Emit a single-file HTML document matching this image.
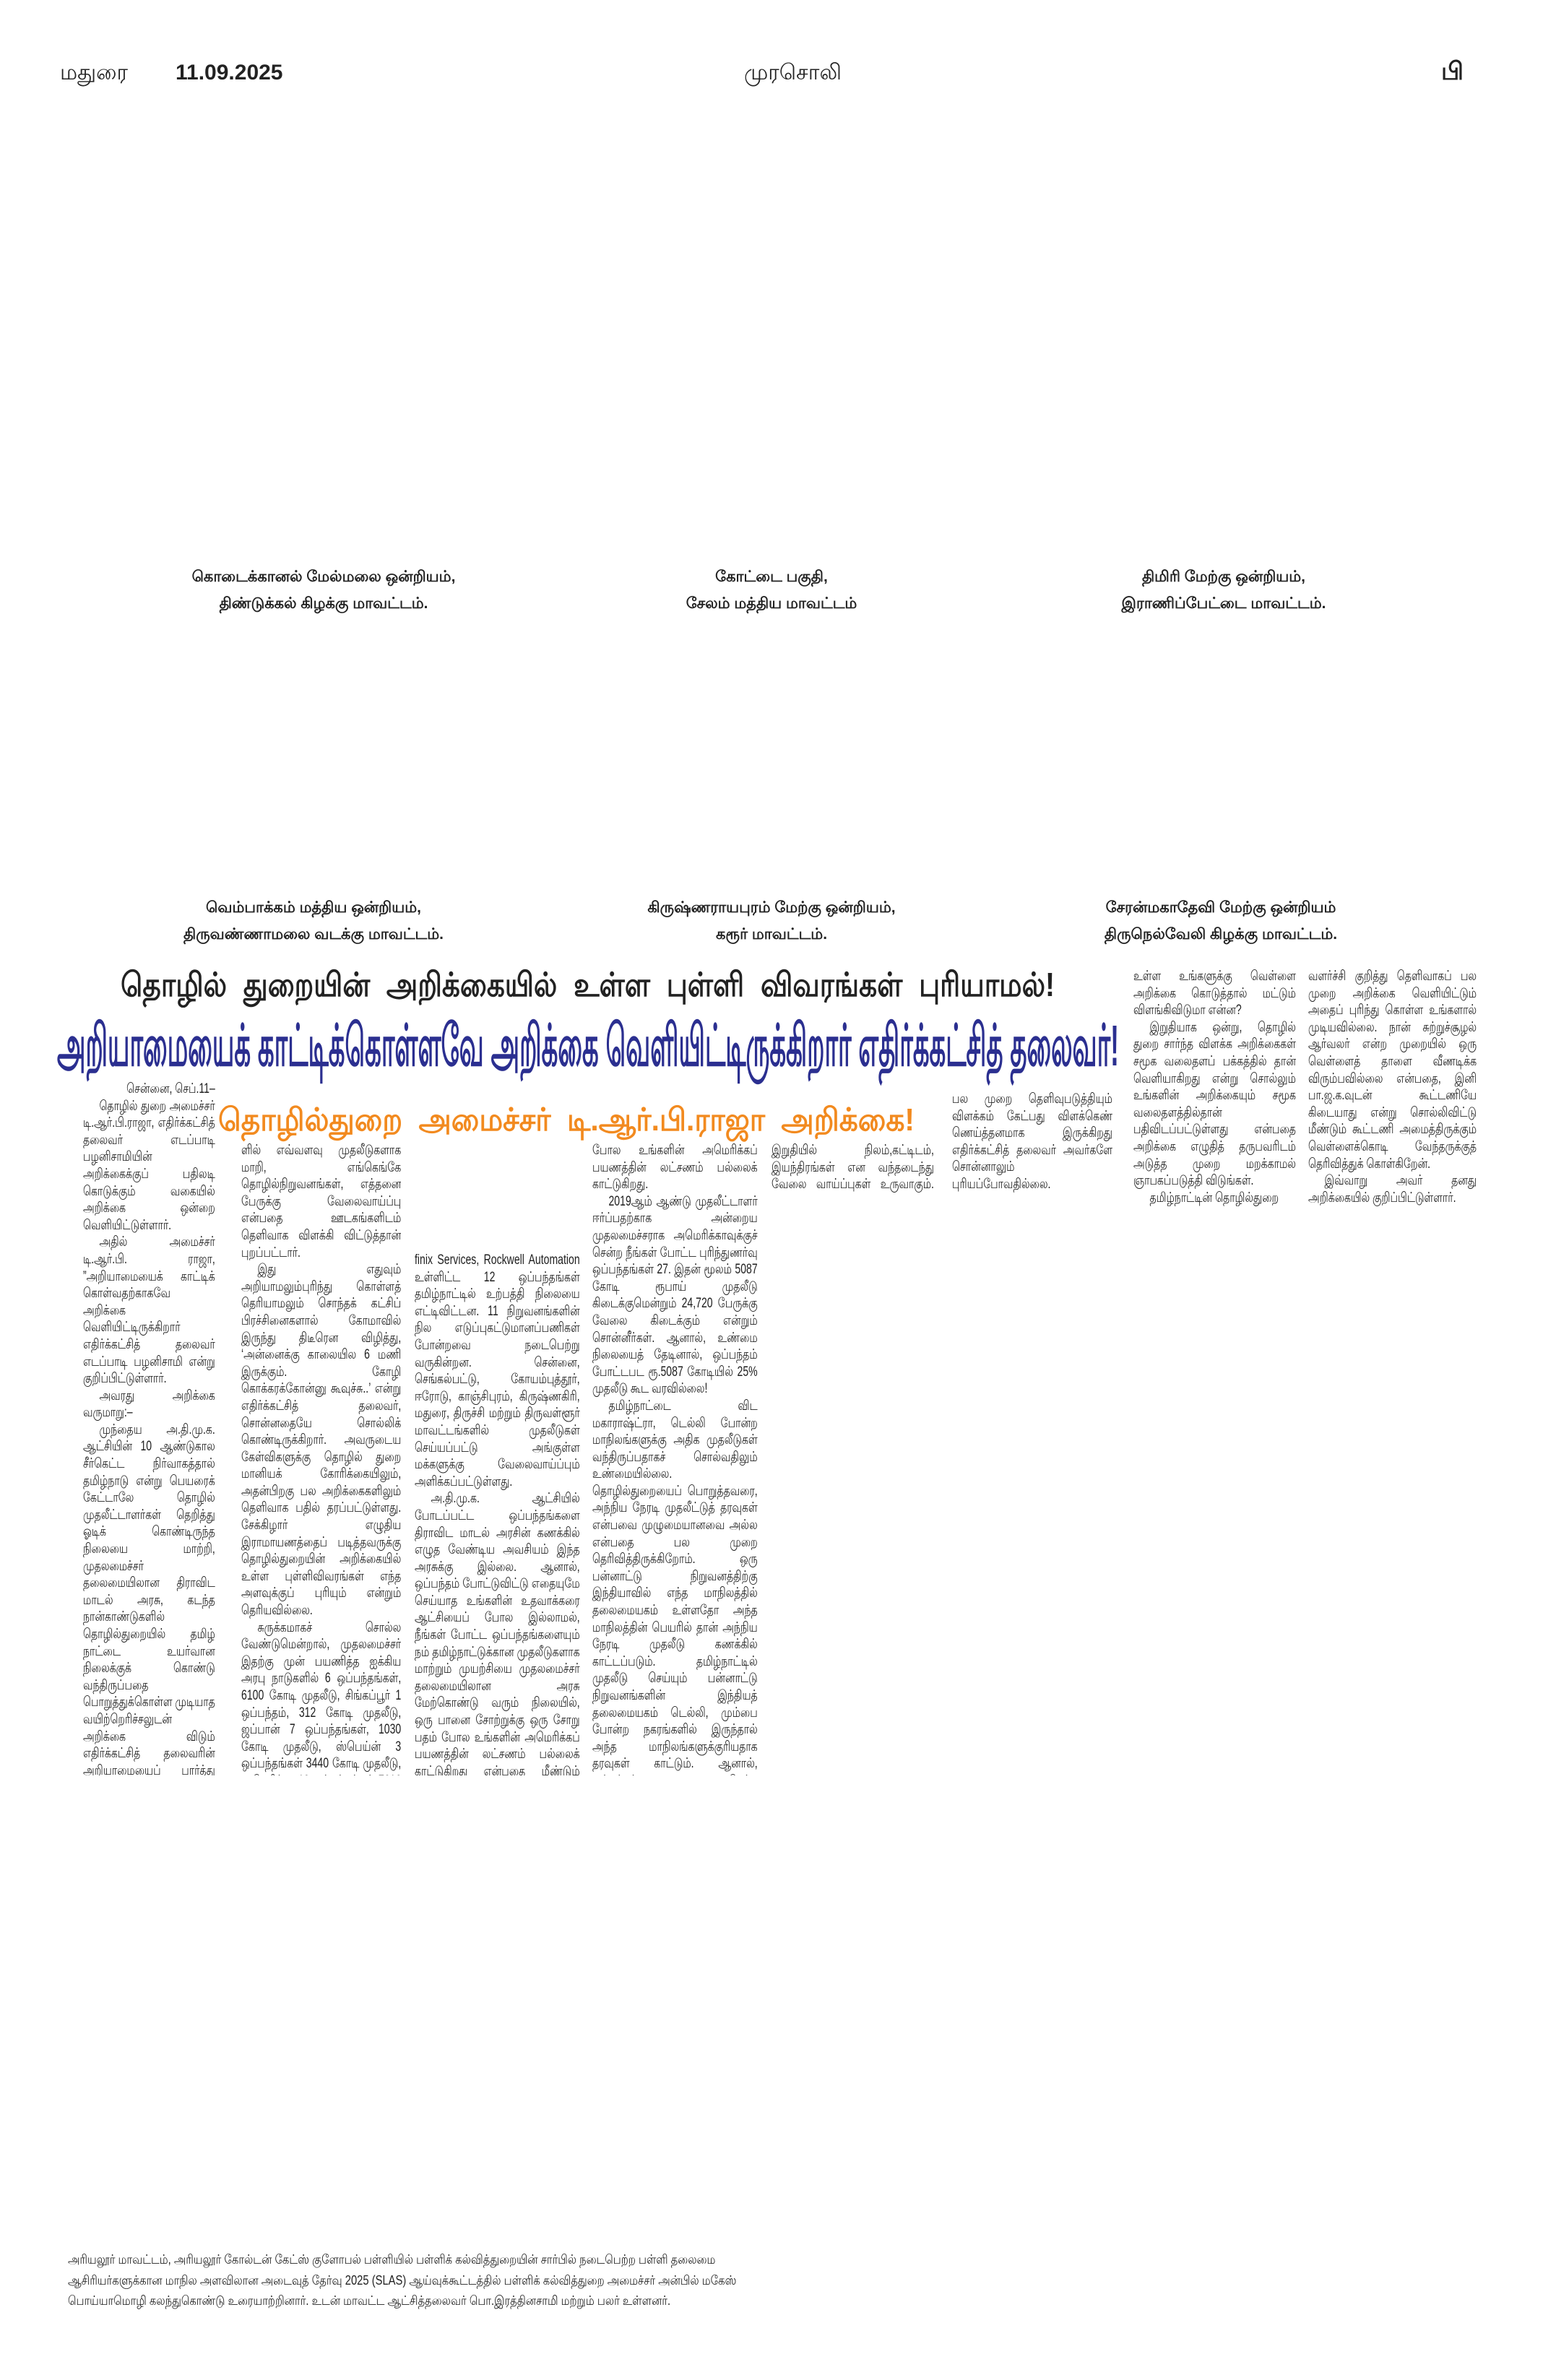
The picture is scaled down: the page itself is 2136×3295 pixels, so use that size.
<!DOCTYPE html>
<html><head><meta charset="utf-8">
<style>
html,body{margin:0;padding:0;background:#fff;}
body{width:2136px;height:3295px;position:relative;overflow:hidden;font-family:"Liberation Sans",sans-serif;color:#222;}
.a{position:absolute;}
.cap{position:absolute;text-align:center;font-weight:bold;font-size:21px;line-height:37px;width:600px;color:#222;}
.col{position:absolute;overflow:hidden;}
.in{font-size:19px;line-height:23.6px;text-align:justify;color:#1e1e1e;transform:scaleX(0.74);transform-origin:0 0;}
.in p{margin:0;text-indent:1.6em;}
.fit{white-space:nowrap;display:inline-block;transform-origin:0 0;}
</style></head><body>

<div class="a" style="left:83px;top:84px;font-size:30px;">மதுரை</div>
<div class="a" style="left:243px;top:84px;font-size:30px;font-weight:bold;">11.09.2025</div>
<div class="a" style="left:1030px;top:84px;font-size:30px;">முரசொலி</div>
<div class="a" style="left:1995px;top:80px;font-size:34px;font-weight:bold;">பி</div>

<div class="cap" style="left:148px;top:780px;">கொடைக்கானல் மேல்மலை ஒன்றியம்,<br>திண்டுக்கல் கிழக்கு மாவட்டம்.</div>
<div class="cap" style="left:768px;top:780px;">கோட்டை பகுதி,<br>சேலம் மத்திய மாவட்டம்</div>
<div class="cap" style="left:1394px;top:780px;">திமிரி மேற்கு ஒன்றியம்,<br>இராணிப்பேட்டை மாவட்டம்.</div>

<div class="cap" style="left:134px;top:1238px;">வெம்பாக்கம் மத்திய ஒன்றியம்,<br>திருவண்ணாமலை வடக்கு மாவட்டம்.</div>
<div class="cap" style="left:768px;top:1238px;">கிருஷ்ணராயபுரம் மேற்கு ஒன்றியம்,<br>கரூர் மாவட்டம்.</div>
<div class="cap" style="left:1390px;top:1238px;">சேரன்மகாதேவி மேற்கு ஒன்றியம்<br>திருநெல்வேலி கிழக்கு மாவட்டம்.</div>

<div class="a" style="left:167px;top:1336px;height:56px;"><span class="fit" data-w="1293" style="font-size:46px;font-weight:bold;color:#222;word-spacing:14px;">தொழில் துறையின் அறிக்கையில் உள்ள புள்ளி விவரங்கள் புரியாமல்!</span></div>
<div class="a" style="left:79px;top:1405px;height:90px;"><span class="fit" data-w="1470" data-h="86" style="font-size:80px;font-weight:bold;color:#2b2f90;line-height:86px;">அறியாமையைக் காட்டிக்கொள்ளவே அறிக்கை வெளியிட்டிருக்கிறார் எதிர்க்கட்சித் தலைவர்!</span></div>
<div class="a" style="left:302px;top:1526px;height:48px;"><span class="fit" data-w="964" style="font-size:44px;font-weight:bold;color:#f28a1f;word-spacing:12px;">தொழில்துறை அமைச்சர் டி.ஆர்.பி.ராஜா அறிக்கை!</span></div>

<div class="col" style="left:115px;top:1496px;width:183px;height:962px;"><div class="in" style="width:247px;">
<p style="text-align:right">சென்னை, செப்.11–</p>
<p>தொழில் துறை அமைச்சர் டி.ஆர்.பி.ராஜா, எதிர்க்கட்சித் தலைவர் எடப்பாடி பழனிசாமியின் அறிக்கைக்குப் பதிலடி கொடுக்கும் வகையில் அறிக்கை ஒன்றை வெளியிட்டுள்ளார்.</p>
<p>அதில் அமைச்சர் டி.ஆர்.பி. ராஜா, ”அறியாமையைக் காட்டிக் கொள்வதற்காகவே அறிக்கை வெளியிட்டிருக்கிறார் எதிர்க்கட்சித் தலைவர் எடப்பாடி பழனிசாமி என்று குறிப்பிட்டுள்ளார்.</p>
<p>அவரது அறிக்கை வருமாறு:–</p>
<p>முந்தைய அ.தி.மு.க. ஆட்சியின் 10 ஆண்டுகால சீர்கெட்ட நிர்வாகத்தால் தமிழ்நாடு என்று பெயரைக் கேட்டாலே தொழில் முதலீட்டாளர்கள் தெறித்து ஓடிக் கொண்டிருந்த நிலையை மாற்றி, முதலமைச்சர் தலைமையிலான திராவிட மாடல் அரசு, கடந்த நான்காண்டுகளில் தொழில்துறையில் தமிழ் நாட்டை உயர்வான நிலைக்குக் கொண்டு வந்திருப்பதை பொறுத்துக்கொள்ள முடியாத வயிற்றெரிச்சலுடன் அறிக்கை விடும் எதிர்க்கட்சித் தலைவரின் அறியாமையைப் பார்த்து பரிதாபப்படுகிறேன்.</p>
<p>முதலமைச்சரின் வெளிநாட்டுப் பயணங்களால் எவ்வளவு முதலீடு வந்தது என்று ‘திரும்பத் திரும்ப பேசும்’ அரசியல் களத்தின் வடிவேலுவாகியிருக்கிறார் எதிர்க்கட்சித் தலைவர். முதலமைச்சர் தன்னுடைய ஜெர்மனி, இங்கிலாந்து பயணத்தைத் தொடங்குவதற்கு முன்பே முந்தைய வெளிநாட்டுப் பயணங்களில் போடப்பட்ட ஒப்பந்தங்க</p>
</div></div>

<div class="col" style="left:334px;top:1581px;width:221px;height:877px;"><div class="in" style="width:299px;">
<p style="text-indent:0">ளில் எவ்வளவு முதலீடுகளாக மாறி, எங்கெங்கே தொழில்நிறுவனங்கள், எத்தனை பேருக்கு வேலைவாய்ப்பு என்பதை ஊடகங்களிடம் தெளிவாக விளக்கி விட்டுத்தான் புறப்பட்டார்.</p>
<p>இது எதுவும் அறியாமலும்புரிந்து கொள்ளத் தெரியாமலும் சொந்தக் கட்சிப் பிரச்சினைகளால் கோமாவில் இருந்து திடீரென விழித்து, ‘அன்னைக்கு காலையில 6 மணி இருக்கும். கோழி கொக்கரக்கோன்னு கூவுச்சு..’ என்று எதிர்க்கட்சித் தலைவர், சொன்னதையே சொல்லிக் கொண்டிருக்கிறார். அவருடைய கேள்விகளுக்கு தொழில் துறை மானியக் கோரிக்கையிலும், அதன்பிறகு பல அறிக்கைகளிலும் தெளிவாக பதில் தரப்பட்டுள்ளது. சேக்கிழார் எழுதிய இராமாயணத்தைப் படித்தவருக்கு தொழில்துறையின் அறிக்கையில் உள்ள புள்ளிவிவரங்கள் எந்த அளவுக்குப் புரியும் என்றும் தெரியவில்லை.</p>
<p>சுருக்கமாகச் சொல்ல வேண்டுமென்றால், முதலமைச்சர் இதற்கு முன் பயணித்த ஐக்கிய அரபு நாடுகளில் 6 ஒப்பந்தங்கள், 6100 கோடி முதலீடு, சிங்கப்பூர் 1 ஒப்பந்தம், 312 கோடி முதலீடு, ஜப்பான் 7 ஒப்பந்தங்கள், 1030 கோடி முதலீடு, ஸ்பெய்ன் 3 ஒப்பந்தங்கள் 3440 கோடி முதலீடு, அமெரிக்கா 19 ஒப்பந்தங்கள் 7616 கோடி ரூபாய் முதலீடு எனப் புரிந்துணர்வு ஒப்பந்தங்கள் போடப்பட்டு, அந்த 36 ஒப்பந்தங்களில் Yield Engineering Services, In</p>
</div></div>

<div class="col" style="left:574px;top:1733px;width:229px;height:725px;"><div class="in" style="width:309px;">
<p style="text-indent:0">finix Services, Rockwell Automation உள்ளிட்ட 12 ஒப்பந்தங்கள் தமிழ்நாட்டில் உற்பத்தி நிலையை எட்டிவிட்டன. 11 நிறுவனங்களின் நில எடுப்புகட்டுமானப்பணிகள் போன்றவை நடைபெற்று வருகின்றன. சென்னை, செங்கல்பட்டு, கோயம்புத்தூர், ஈரோடு, காஞ்சிபுரம், கிருஷ்ணகிரி, மதுரை, திருச்சி மற்றும் திருவள்ளூர் மாவட்டங்களில் முதலீடுகள் செய்யப்பட்டு அங்குள்ள மக்களுக்கு வேலைவாய்ப்பும் அளிக்கப்பட்டுள்ளது.</p>
<p>அ.தி.மு.க. ஆட்சியில் போடப்பட்ட ஒப்பந்தங்களை திராவிட மாடல் அரசின் கணக்கில் எழுத வேண்டிய அவசியம் இந்த அரசுக்கு இல்லை. ஆனால், ஒப்பந்தம் போட்டுவிட்டு எதையுமே செய்யாத உங்களின் உதவாக்கரை ஆட்சியைப் போல இல்லாமல், நீங்கள் போட்ட ஒப்பந்தங்களையும் நம் தமிழ்நாட்டுக்கான முதலீடுகளாக மாற்றும் முயற்சியை முதலமைச்சர் தலைமையிலான அரசு மேற்கொண்டு வரும் நிலையில், ஒரு பானை சோற்றுக்கு ஒரு சோறு பதம் போல உங்களின் அமெரிக்கப் பயணத்தின் லட்சணம் பல்லைக் காட்டுகிறது என்பதை மீண்டும் நினைவூட்ட விரும்புகிறேன்.</p>
</div></div>

<div class="col" style="left:820px;top:1581px;width:229px;height:877px;"><div class="in" style="width:309px;">
<p style="text-indent:0">போல உங்களின் அமெரிக்கப் பயணத்தின் லட்சணம் பல்லைக் காட்டுகிறது.</p>
<p>2019ஆம் ஆண்டு முதலீட்டாளர் ஈர்ப்பதற்காக அன்றைய முதலமைச்சராக அமெரிக்காவுக்குச் சென்ற நீங்கள் போட்ட புரிந்துணர்வு ஒப்பந்தங்கள் 27. இதன் மூலம் 5087 கோடி ரூபாய் முதலீடு கிடைக்குமென்றும் 24,720 பேருக்கு வேலை கிடைக்கும் என்றும் சொன்னீர்கள். ஆனால், உண்மை நிலையைத் தேடினால், ஒப்பந்தம் போட்டபட ரூ.5087 கோடியில் 25% முதலீடு கூட வரவில்லை!</p>
<p>தமிழ்நாட்டை விட மகாராஷ்ட்ரா, டெல்லி போன்ற மாநிலங்களுக்கு அதிக முதலீடுகள் வந்திருப்பதாகச் சொல்வதிலும் உண்மையில்லை. தொழில்துறையைப் பொறுத்தவரை, அந்நிய நேரடி முதலீட்டுத் தரவுகள் என்பவை முழுமையானவை அல்ல என்பதை பல முறை தெரிவித்திருக்கிறோம். ஒரு பன்னாட்டு நிறுவனத்திற்கு இந்தியாவில் எந்த மாநிலத்தில் தலைமையகம் உள்ளதோ அந்த மாநிலத்தின் பெயரில் தான் அந்நிய நேரடி முதலீடு கணக்கில் காட்டப்படும். தமிழ்நாட்டில் முதலீடு செய்யும் பன்னாட்டு நிறுவனங்களின் இந்தியத் தலைமையகம் டெல்லி, மும்பை போன்ற நகரங்களில் இருந்தால் அந்த மாநிலங்களுக்குரியதாக தரவுகள் காட்டும். ஆனால், ஒப்பந்தம் செய்த தமிழ்நாட்டிற்குத்தான் அந்த முதலீடு இறுதியில் நிலம், கட்டிடம், இயந்திரங்கள் என வந்தடைந்து வேலை வாய்ப்புகள் உருவாகும்.</p>
</div></div>

<div class="col" style="left:1068px;top:1581px;width:225px;height:72px;"><div class="in" style="width:304px;">
<p style="text-indent:0">இறுதியில் நிலம்,கட்டிடம், இயந்திரங்கள் என வந்தடைந்து வேலை வாய்ப்புகள் உருவாகும். இது பற்றி</p>
</div></div>

<div class="col" style="left:1318px;top:1510px;width:222px;height:142px;"><div class="in" style="width:300px;">
<p style="text-indent:0">பல முறை தெளிவுபடுத்தியும் விளக்கம் கேட்பது விளக்கெண் ணெய்த்தனமாக இருக்கிறது எதிர்க்கட்சித் தலைவர் அவர்களே சொன்னாலும் புரியப்போவதில்லை. சொந்தமாகவும் தெரிந்துகொள்ளப் போவதில்லை என்கிற நிலைமையில்</p>
</div></div>

<div class="col" style="left:1569px;top:1340px;width:225px;height:332px;"><div class="in" style="width:304px;">
<p style="text-indent:0">உள்ள உங்களுக்கு வெள்ளை அறிக்கை கொடுத்தால் மட்டும் விளங்கிவிடுமா என்ன?</p>
<p>இறுதியாக ஒன்று, தொழில் துறை சார்ந்த விளக்க அறிக்கைகள் சமூக வலைதளப் பக்கத்தில் தான் வெளியாகிறது என்று சொல்லும் உங்களின் அறிக்கையும் சமூக வலைதளத்தில்தான் பதிவிடப்பட்டுள்ளது என்பதை அறிக்கை எழுதித் தருபவரிடம் அடுத்த முறை மறக்காமல் ஞாபகப்படுத்தி விடுங்கள்.</p>
<p>தமிழ்நாட்டின் தொழில்துறை</p>
</div></div>

<div class="col" style="left:1811px;top:1340px;width:233px;height:332px;"><div class="in" style="width:315px;">
<p style="text-indent:0">வளர்ச்சி குறித்து தெளிவாகப் பல முறை அறிக்கை வெளியிட்டும் அதைப் புரிந்து கொள்ள உங்களால் முடியவில்லை. நான் சுற்றுச்சூழல் ஆர்வலர் என்ற முறையில் ஒரு வெள்ளைத் தாளை வீணடிக்க விரும்பவில்லை என்பதை, இனி பா.ஜ.க.வுடன் கூட்டணியே கிடையாது என்று சொல்லிவிட்டு மீண்டும் கூட்டணி அமைத்திருக்கும் வெள்ளைக்கொடி வேந்தருக்குத் தெரிவித்துக் கொள்கிறேன்.</p>
<p>இவ்வாறு அவர் தனது அறிக்கையில் குறிப்பிட்டுள்ளார்.</p>
</div></div>

<div class="a" style="left:94px;top:3114px;width:1230px;font-size:18px;line-height:28.5px;color:#222;transform:scaleX(0.82);transform-origin:0 0;">அரியலூர் மாவட்டம், அரியலூர் கோல்டன் கேட்ஸ் குளோபல் பள்ளியில் பள்ளிக் கல்வித்துறையின் சார்பில் நடைபெற்ற பள்ளி தலைமை ஆசிரியர்களுக்கான மாநில அளவிலான அடைவுத் தேர்வு 2025 (SLAS) ஆய்வுக்கூட்டத்தில் பள்ளிக் கல்வித்துறை அமைச்சர் அன்பில் மகேஸ் பொய்யாமொழி கலந்துகொண்டு உரையாற்றினார். உடன் மாவட்ட ஆட்சித்தலைவர் பொ.இரத்தினசாமி மற்றும் பலர் உள்ளனர்.</div>

<script>
document.querySelectorAll('.fit').forEach(function(e){
  var w=parseFloat(e.getAttribute('data-w'));
  var h=e.getAttribute('data-h');
  var r=e.getBoundingClientRect();
  var sx=w/r.width, sy=1;
  if(h){sy=parseFloat(h)/r.height;}
  e.style.transform='scale('+sx+','+sy+')';
});
</script>
</body></html>
